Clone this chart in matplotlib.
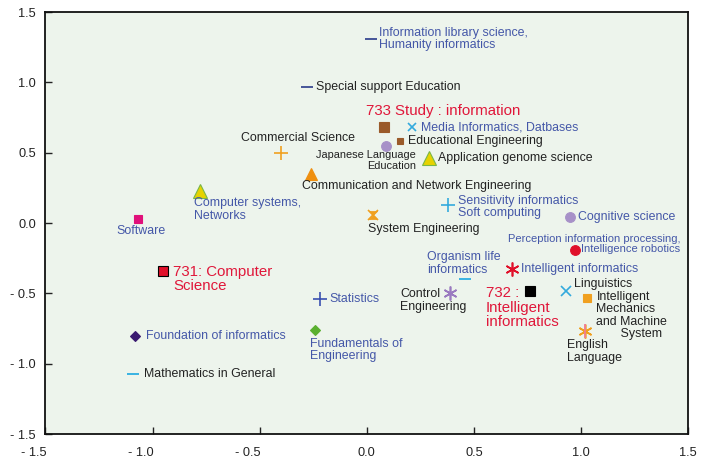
import matplotlib
matplotlib.use("Agg")
import matplotlib.pyplot as plt
from matplotlib.transforms import ScaledTranslation

plt.rcParams['font.family'] = ['Liberation Sans', 'DejaVu Sans']

# data
names = [
    "Information library science,\nHumanity informatics",
    "Special support Education",
    "733 Study : information",
    "Media Informatics, Datbases",
    "Educational Engineering",
    "Japanese Language\nEducation",
    "Application genome science",
    "Commercial Science",
    "Communication and Network Engineering",
    "Computer systems,\nNetworks",
    "Software",
    "System Engineering",
    "Sensitivity informatics\nSoft computing",
    "Cognitive science",
    "Perception information processing,\nIntelligence robotics",
    "Organism life\ninformatics",
    "Intelligent informatics",
    "732 :\nIntelligent\ninformatics",
    "Linguistics",
    "Intelligent\nMechanics\nand Machine\n       System",
    "English\nLanguage",
    "Control\nEngineering",
    "731: Computer\nScience",
    "Statistics",
    "Foundation of informatics",
    "Fundamentals of\nEngineering",
    "Mathematics in General",
]
xs = [0.02, -0.28, 0.08, 0.21, 0.155, 0.09, 0.29, -0.40, -0.26, -0.78, -1.07,
      0.03, 0.38, 0.95, 0.97, 0.46, 0.68, 0.76, 0.93, 1.03, 1.02, 0.39, -0.95,
      -0.22, -1.08, -0.24, -1.09]
ys = [1.31, 0.97, 0.68, 0.68, 0.58, 0.55, 0.46, 0.50, 0.35, 0.23, 0.03,
      0.06, 0.13, 0.04, -0.19, -0.40, -0.33, -0.48, -0.48, -0.53, -0.77, -0.50, -0.34,
      -0.54, -0.80, -0.76, -1.07]

BLUE = "#4457a8"
BLACK = "#222222"
RED = "#e0173a"
FS = 8.9
FR = 10.8

# marker, face colour, edge colour, size
styles = [
    ("_", "#2a3a8a", "#2a3a8a", 9),
    ("_", "#2a3a8a", "#2a3a8a", 9),
    ("s", "#9a5a2a", "#9a5a2a", 7.5),
    ("x", "#33aadd", "#33aadd", 6),
    ("s", "#9a5a2a", "#9a5a2a", 5),
    ("o", "#a791c8", "#a791c8", 7),
    ("^", "#e6d200", "#7ab648", 10),
    ("+", "#f0a020", "#f0a020", 10),
    ("^", "#ef8f10", "#ef8f10", 8),
    ("^", "#e6d200", "#7ab648", 10),
    ("s", "#e0107a", "#e0107a", 6),
    ("x", "#f0a020", "#f0a020", 7),
    ("+", "#33aadd", "#33aadd", 10),
    ("o", "#a791c8", "#a791c8", 7),
    ("o", "#e0102a", "#e0102a", 7),
    ("_", "#1aa8e0", "#1aa8e0", 9),
    ((6, 2, 0), "#e0102a", "#e0102a", 10),
    ("s", "#000000", "#000000", 7),
    ("x", "#33aadd", "#33aadd", 7),
    ("s", "#f0a020", "#f0a020", 6),
    ((6, 2, 0), "#f0a020", "#f0a020", 10),
    ((6, 2, 0), "#9a7ac0", "#9a7ac0", 10),
    ("s", "#e0102a", "#000000", 7),
    ("+", "#3a50b0", "#3a50b0", 10),
    ("D", "#3a1a70", "#3a1a70", 5),
    ("D", "#5ab030", "#5ab030", 5),
    ("_", "#1aa8e0", "#1aa8e0", 9),
]

# label offset in pixels, alignment, colour, size
labels = [
    ((8, 0), "left", BLUE, FS),
    ((9, 0), "left", BLACK, FS),
    ((-18, 16), "left", RED, FR),
    ((9, 0), "left", BLUE, FS),
    ((8, 0), "left", BLACK, FS),
    ((30, -15), "right", BLACK, 7.9),
    ((9, 0), "left", BLACK, FS),
    ((17, 15), "center", BLACK, FS),
    ((-9, -12), "left", BLACK, FS),
    ((-6, -19), "left", BLUE, FS),
    ((3, -12), "center", BLUE, FS),
    ((-5, -14), "left", BLACK, FS),
    ((10, -2), "left", BLUE, FS),
    ((8, 0), "left", BLUE, FS),
    ((106, 6), "right", BLUE, 8.0),
    ((-38, 16), "left", BLUE, FS),
    ((9, 0), "left", BLUE, FS),
    ((-44, -17), "left", RED, FR),
    ((8, 7), "left", BLACK, FS),
    ((9, -18), "left", BLACK, FS),
    ((-18, -20), "left", BLACK, FS),
    ((-50, -7), "left", BLACK, FS),
    ((10, -8), "left", RED, FR),
    ((10, 0), "left", BLUE, FS),
    ((11, 0), "left", BLUE, FS),
    ((-5, -20), "left", BLUE, FS),
    ((11, 0), "left", BLACK, FS),
]

ticks = [-1.5, -1.0, -0.5, 0.0, 0.5, 1.0, 1.5]
tick_labels = ["- 1.5", "- 1.0", "- 0.5", "0.0", "0.5", "1.0", "1.5"]

fig = plt.figure(figsize=(7.05, 4.57), dpi=100)
ax = fig.add_axes([0.0645, 0.0503, 0.9115, 0.9234])
ax.set_facecolor("#edf4ec")

for i, name in enumerate(names):
    m, fc, ec, ms = styles[i]
    mew = 1.2 if m in ("x", "+", "_") or isinstance(m, tuple) else 0.8
    ax.plot(xs[i], ys[i], linestyle="none", marker=m, markersize=ms,
            markerfacecolor=fc, markeredgecolor=ec, markeredgewidth=mew, zorder=3)
    (dx, dy), ha, col, fs = labels[i]
    ax.annotate(name, (xs[i], ys[i]), xytext=(dx, dy), textcoords="offset pixels",
                ha=ha, va="center", color=col, fontsize=fs, linespacing=1.05,
                multialignment=ha)

# extra strokes on a few markers
ax.plot(xs[20], ys[20], marker="|", markersize=10, color="#f07aa0",
        markeredgewidth=1.2, linestyle="none", zorder=4)
hourglass = [(-1, 1), (1, 1), (-1, -1), (1, -1), (-1, 1)]
ax.plot(xs[11], ys[11], marker=hourglass, markersize=6, color="#f0a020",
        markeredgewidth=0.5, linestyle="none", zorder=4)

ax.set_xlim(-1.5, 1.5)
ax.set_ylim(-1.5, 1.5)
ax.set_xticks(ticks)
ax.set_xticklabels(tick_labels)
ax.set_yticks(ticks)
ax.set_yticklabels(tick_labels)
ax.tick_params(direction="in", length=5, width=1, labelsize=9.2, colors="#222222",
               top=False, right=False, pad=7)
ax.tick_params(axis="x", pad=9)
# negative x labels sit to the left of their ticks
shift = ScaledTranslation(1 / 100, 0, fig.dpi_scale_trans)
for lab in ax.get_xticklabels():
    if lab.get_text().startswith("-"):
        lab.set_horizontalalignment("right")
        lab.set_transform(lab.get_transform() + shift)
for sp in ax.spines.values():
    sp.set_linewidth(1.3)
    sp.set_color("#111111")

fig.savefig("out.png", dpi=100)
